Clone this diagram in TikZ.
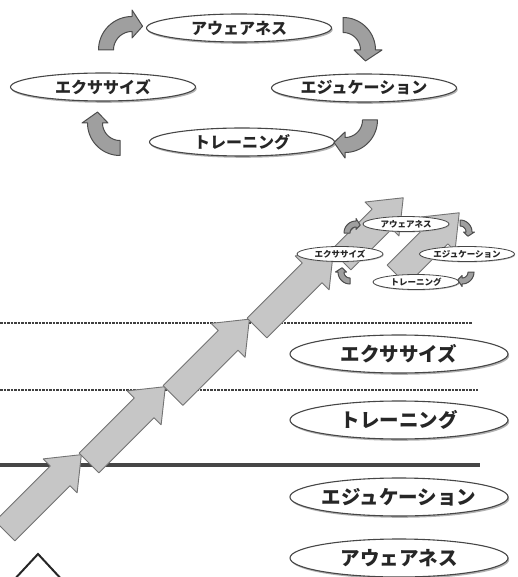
\documentclass[tikz,border=0pt]{standalone}
\usepackage{fontspec}
\newfontfamily\cjk{Noto Sans CJK JP}
\usetikzlibrary{shapes.geometric,shadows}
\tikzset{
  labbase/.style={ellipse, draw=gray!55!black, fill=white, inner sep=0pt, text=black!85},
  bigshadow/.style={drop shadow={shadow xshift=1.2pt, shadow yshift=-1.8pt, fill=gray!60, opacity=1}},
  smallshadow/.style={drop shadow={shadow xshift=0.6pt, shadow yshift=-0.9pt, fill=gray!60, opacity=1}},
  toplab/.style={labbase, bigshadow, line width=1.1pt, minimum width=185pt, minimum height=28pt,
     font=\cjk\bfseries\fontsize{16}{16}\selectfont},
  lowlab/.style={labbase, bigshadow, line width=1.1pt, minimum width=218pt, minimum height=38pt,
     font=\cjk\bfseries\fontsize{19.5}{19.5}\selectfont},
  minilab/.style={labbase, smallshadow, line width=0.8pt, minimum width=86pt, minimum height=15pt,
     font=\cjk\bfseries\fontsize{8.5}{8.5}\selectfont},
  barrow/.style={draw=gray!90!black, line width=0.9pt, fill=gray!45, line join=round},
  cyc/.style={draw=gray!60!black, line width=1pt, fill=gray!75, line join=round},
  dotline/.style={draw=gray!50!black, line width=2pt, dash pattern=on 2.5pt off 1pt},
  solidline/.style={draw=gray!55!black, line width=3.4pt},
}
\newcommand{\cyclearrow}[8]{%
  \draw[cyc] plot[domain=#4:#5,samples=24] ({#1+(#3+#7)*cos(\x)},{#2+(#3+#7)*sin(\x)})
    -- ({#1+(#3+#8)*cos(#5)},{#2+(#3+#8)*sin(#5)})
    -- ({#1+#3*cos(#5+#6)},{#2+#3*sin(#5+#6)})
    -- ({#1+(#3-#8)*cos(#5)},{#2+(#3-#8)*sin(#5)})
    -- plot[domain=#5:#4,samples=24] ({#1+(#3-#7)*cos(\x)},{#2+(#3-#7)*sin(\x)}) -- cycle;}
\newcommand{\chainarrow}[3]{%
  \begin{scope}[shift={(#1,#2)},rotate=45]
    \draw[barrow] (0,-14) -- (#3,-14) -- (#3,-24) -- ({#3+30},0) -- (#3,24) -- (#3,14) -- (0,14) -- cycle;
  \end{scope}}
\begin{document}
\begin{tikzpicture}[x=1pt,y=-1pt]
\useasboundingbox (0,0) rectangle (517,577);
\clip (0,0) rectangle (517,577);

% ---------- top cycle ----------
\node[toplab] (aw) at (239,28) {アウェアネス};
\node[toplab] (ex) at (103,87) {エクササイズ};
\node[toplab] (ed) at (364,88) {エジュケーション};
\node[toplab] (tr) at (242,142) {トレーニング};
\cyclearrow{132}{50}{26}{180}{270}{24}{7.5}{14}
\cyclearrow{343}{50}{25}{270}{360}{26}{7.5}{14}
\cyclearrow{345}{120}{25}{0}{90}{26}{7.5}{13}
\cyclearrow{120}{123}{25}{90}{180}{26}{7.5}{13}

% ---------- level lines ----------
\draw[dotline] (0,323) -- (472,323);
\draw[dotline] (0,390) -- (478,390);
\draw[solidline] (0,465) -- (480,465);

% ---------- arrow chain ----------
\chainarrow{5}{531}{78}
\chainarrow{89}{463}{78}
\chainarrow{173}{395.5}{78}
\chainarrow{257}{328}{78}
\chainarrow{397}{275}{58}
\chainarrow{341}{260}{58}

% ---------- mini cycle ----------
\node[minilab] (maw) at (406,224) {アウェアネス};
\node[minilab] (mex) at (340,254) {エクササイズ};
\node[minilab] (med) at (467,254) {エジュケーション};
\node[minilab] (mtr) at (416,282) {トレーニング};
\cyclearrow{356}{233}{9}{180}{270}{28}{3}{5.5}
\cyclearrow{460}{232}{9}{270}{360}{28}{3}{5.5}
\cyclearrow{462}{272}{9}{0}{90}{28}{3}{5.5}
\cyclearrow{350}{272}{9}{90}{180}{28}{3}{5.5}

% ---------- level labels ----------
\node[lowlab] (lex) at (399,354) {エクササイズ};
\node[lowlab] (ltr) at (399,420) {トレーニング};
\node[lowlab] (led) at (399,497) {エジュケーション};
\node[lowlab] (law) at (399,558) {アウェアネス};

% ---------- triangle ----------
\draw[black!85, line width=2pt, line join=miter] (12,582) -- (38,554) -- (64,582);
\end{tikzpicture}
\end{document}
